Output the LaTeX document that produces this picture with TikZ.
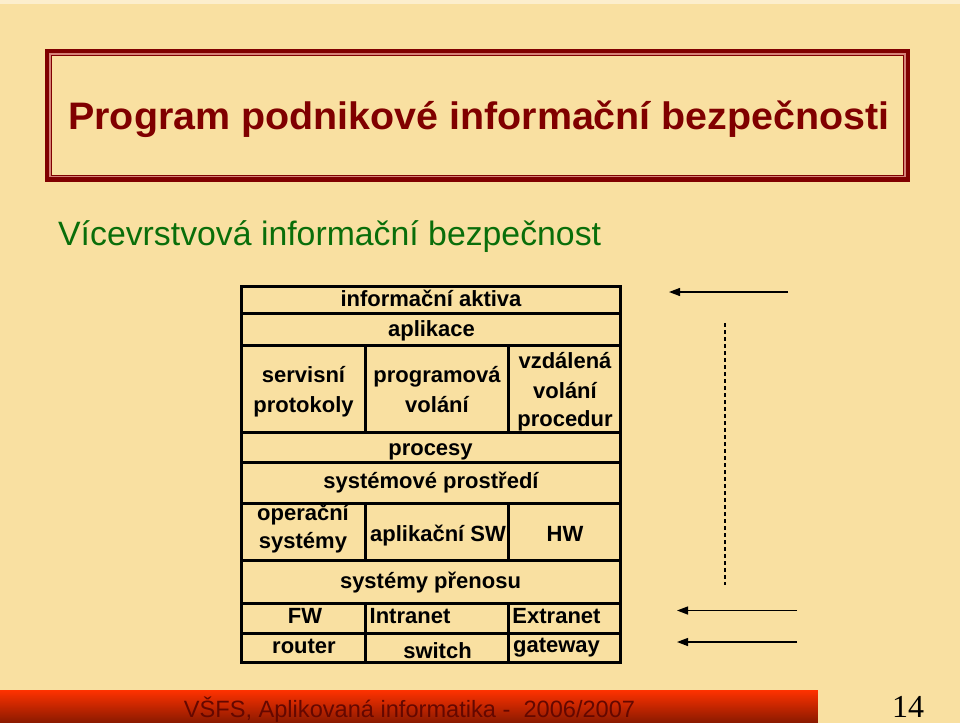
\documentclass[tikz,border=0pt]{standalone}
\usepackage{fontspec}
\setmainfont{Liberation Sans}
\newfontfamily\seriffont{Liberation Serif}
\usetikzlibrary{arrows.meta}
\definecolor{bg}{RGB}{249,224,161}
\definecolor{bgtop}{RGB}{252,238,205}
\definecolor{titlered}{RGB}{128,0,0}
\definecolor{pinkline}{RGB}{214,130,120}
\definecolor{subgreen}{RGB}{10,110,10}
\definecolor{barTop}{RGB}{255,50,0}
\definecolor{barBot}{RGB}{140,26,0}
\definecolor{footred}{RGB}{100,8,0}
\tikzset{
  grid/.style={line width=3pt, black},
  cell/.style={font=\fontsize{22}{24}\selectfont\bfseries, anchor=base, inner sep=0pt, align=center},
  leftarrow/.style={line width=1.3pt, -{Triangle[length=11pt,width=8pt]}},
}
\begin{document}
\begin{tikzpicture}[x=1pt,y=-1pt]
\fill[bg] (0,0) rectangle (960,723);
\fill[bgtop] (0,0) rectangle (960,4);
\useasboundingbox (0,0) rectangle (960,723);
% title box
\draw[titlered, line width=4.4pt] (47.2,51.2) rectangle (907.8,179.5);
\draw[pinkline, line width=1.2pt] (50.0,54.0) rectangle (905.0,176.7);
\draw[titlered, line width=1.2pt] (51.4,55.2) rectangle (903.6,175.3);
\node[anchor=base, inner sep=0pt, text=titlered, font=\fontsize{36.5}{40}\selectfont\bfseries] (title) at (479,129) {\scalebox{1.08}[1.05]{Program podnikové informační bezpečnosti}};
% subtitle
\node[anchor=base west, inner sep=0pt, text=subgreen, font=\fontsize{33.8}{38}\selectfont] (subtitle) at (58,245) {Vícevrstvová informační bezpečnost};
% table grid
\draw[grid] (241.5,286.5) rectangle (620,662);
\foreach \yy in {313,345,432,462,503,560,603,633} \draw[grid] (241.5,\yy) -- (620,\yy);
\foreach \xx in {365,508} {
  \draw[grid] (\xx,345) -- (\xx,432);
  \draw[grid] (\xx,503) -- (\xx,560);
  \draw[grid] (\xx,603) -- (\xx,662);
}
% table texts
\node[cell] (aktiva) at (431,306) {informační aktiva};
\node[cell] (aplikace) at (431.5,336.5) {aplikace};
\node[cell] (servisni) at (303.5,382) {servisní};
\node[cell] (protokoly) at (303.5,412) {protokoly};
\node[cell] (programova) at (437,382) {programová};
\node[cell] (volani1) at (437,412) {volání};
\node[cell] (vzdalena) at (565,368) {vzdálená};
\node[cell] (volani2) at (565,398) {volání};
\node[cell] (procedur) at (565,426.5) {procedur};
\node[cell] (procesy) at (430.5,455) {procesy};
\node[cell] (sysprostr) at (431,488.5) {systémové prostředí};
\node[cell] (operacni) at (303,520) {operační};
\node[cell] (systemy) at (303,548) {systémy};
\node[cell] (aplsw) at (438,541) {aplikační SW};
\node[cell] (hw) at (565,541) {HW};
\node[cell] (prenosu) at (430.5,588.5) {systémy přenosu};
\node[cell] (fw) at (305,623.5) {FW};
\node[cell] (intranet) at (410,623.5) {Intranet};
\node[cell] (extranet) at (556.5,623.5) {Extranet};
\node[cell] (router) at (304,653) {router};
\node[cell] (switch) at (437.5,658) {switch};
\node[cell] (gateway) at (556.5,652) {gateway};
% arrows on the right
\coordinate (a1s) at (788,292); \coordinate (a1e) at (669,292);
\coordinate (a2s) at (797,610.5); \coordinate (a2e) at (677,610.5);
\coordinate (a3s) at (797,642); \coordinate (a3e) at (677,642);
\coordinate (d1) at (725,323); \coordinate (d2) at (725,585);
\draw[leftarrow] (a1s) -- (a1e);
\draw[leftarrow] (a2s) -- (a2e);
\draw[leftarrow] (a3s) -- (a3e);
\draw[line width=1.2pt, dash pattern=on 4pt off 3pt] (d1) -- (d2);
% footer bar: gradient built from thin strips
\foreach \i in {0,...,32} {
  \pgfmathsetmacro{\pct}{100-100*\i/32}
  \fill[barTop!\pct!barBot] (0,690+\i) rectangle (818,691.05+\i);
}
\node[anchor=base, inner sep=0pt, text=footred, font=\fontsize{23.6}{26}\selectfont] (footer) at (409.5,717) {VŠFS, Aplikovaná informatika -\ \ 2006/2007};
\node[anchor=base, inner sep=0pt, font=\seriffont\fontsize{32}{34}\selectfont] (pageno) at (908,717) {14};
\end{tikzpicture}
\end{document}
